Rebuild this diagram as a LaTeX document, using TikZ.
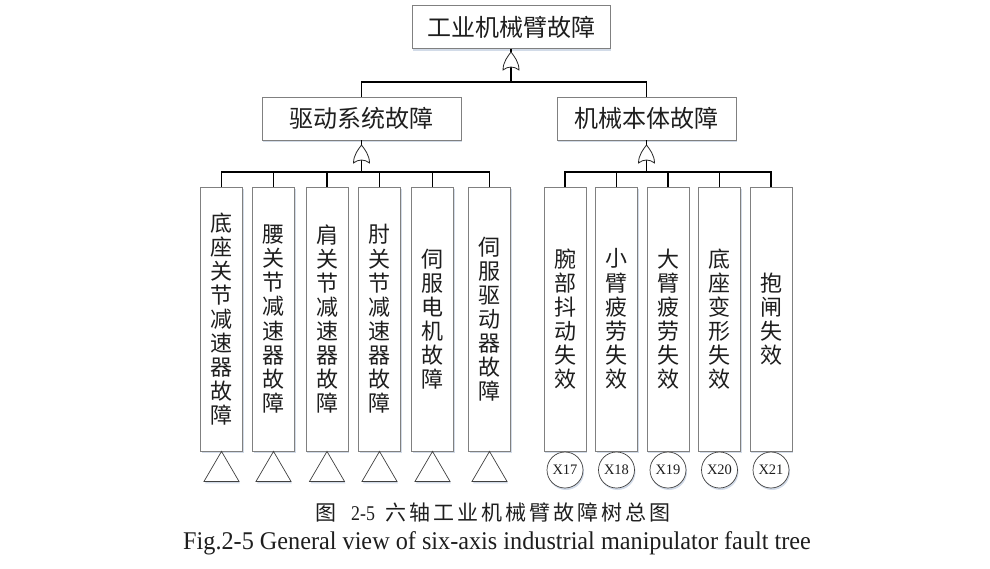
\documentclass[tikz,border=0pt]{standalone}
\usepackage{fontspec}
\setmainfont{Liberation Serif}
\newfontfamily\cjk{Noto Sans CJK SC}
\usetikzlibrary{shadows}
\definecolor{boxgray}{RGB}{128,128,128}
\definecolor{shadowc}{RGB}{205,215,230}
\definecolor{txt}{RGB}{30,30,30}
\begin{document}
\begin{tikzpicture}[x=1pt,y=-1pt,
  shd/.style={drop shadow={shadow xshift=1pt,shadow yshift=-2pt,fill=shadowc,opacity=0.9}},
  box/.style={draw=boxgray,line width=0.8pt,fill=white,inner sep=0pt,text=txt,shd},
  hbox/.style={box,minimum height=43pt,font=\cjk\fontsize{24}{26}\selectfont},
  leaf/.style={box,minimum width=42pt,minimum height=264pt,align=center,
    font=\cjk\fontsize{22}{24.1}\selectfont},
  conn/.style={line width=1.7pt,black},
  gatest/.style={draw=black!85,line width=0.8pt,fill=white},
  tri/.style={draw=black!75,line width=0.7pt,fill=white,shd},
  evt/.style={circle,draw=black!75,line width=0.7pt,fill=white,minimum size=36pt,
    inner sep=0pt,font=\fontsize{14.5}{16}\selectfont,text=txt,shd},
  orgate/.pic={\draw[gatest] (-8,18) .. controls (-8,10) and (-3,4) .. (0,0)
      .. controls (3,4) and (8,10) .. (8,18) .. controls (3,14) and (-3,14) .. cycle;}
]
\useasboundingbox (0,0) rectangle (990,568);

% top and middle events
\node[hbox,minimum width=198pt] (top) at (511,27) {工业机械臂故障};
\node[hbox,minimum width=199pt] (d) at (361.5,118.5) {驱动系统故障};
\node[hbox,minimum width=179pt] (m) at (646.5,118.5) {机械本体故障};

% leaf events, left
\node[leaf] (l1) at (221.5,319) {底\\座\\关\\节\\减\\速\\器\\故\\障};
\node[leaf] (l2) at (273.5,319) {腰\\关\\节\\减\\速\\器\\故\\障};
\node[leaf] (l3) at (327,319) {肩\\关\\节\\减\\速\\器\\故\\障};
\node[leaf] (l4) at (379.5,319) {肘\\关\\节\\减\\速\\器\\故\\障};
\node[leaf] (l5) at (432.5,319) {伺\\服\\电\\机\\故\\障};
\node[leaf] (l6) at (489.5,319) {伺\\服\\驱\\动\\器\\故\\障};
% leaf events, right
\node[leaf] (r1) at (565,319) {腕\\部\\抖\\动\\失\\效};
\node[leaf] (r2) at (616.5,319) {小\\臂\\疲\\劳\\失\\效};
\node[leaf] (r3) at (668,319) {大\\臂\\疲\\劳\\失\\效};
\node[leaf] (r4) at (719.5,319) {底\\座\\变\\形\\失\\效};
\node[leaf] (r5) at (771,319) {抱\\闸\\失\\效};

% gate coordinates
\coordinate (g0in) at (511,52);   \coordinate (g0out) at (511,67);  \coordinate (bar0) at (511,82);
\coordinate (g1in) at (361.5,145); \coordinate (g1out) at (361.5,160); \coordinate (bar1) at (361.5,172);
\coordinate (g2in) at (646.5,145); \coordinate (g2out) at (646.5,160); \coordinate (bar2) at (646.5,172);

% connectors
\draw[conn] (top.south) -- (g0in);
\draw[conn] (g0out) -- (bar0);
\draw[conn] (bar0) -| (d.north);
\draw[conn] (bar0) -| (m.north);
\draw[conn] (d.south) -- (g1in);
\draw[conn] (g1out) -- (bar1);
\draw[conn] (m.south) -- (g2in);
\draw[conn] (g2out) -- (bar2);
\foreach \n in {l1,l2,l3,l4,l5,l6} \draw[conn] (bar1) -| (\n.north);
\foreach \n in {r1,r2,r3,r4,r5} \draw[conn] (bar2) -| (\n.north);

% OR gates
\pic at (g0in) {orgate};
\pic at (g1in) {orgate};
\pic at (g2in) {orgate};

% undeveloped events (triangles)
\foreach \n in {l1,l2,l3,l4,l5,l6}
  \draw[tri] (\n.south) -- ++(-17.5,30) -- ++(35,0) -- cycle;

% basic events (circles)
\node[evt] (x17) at (565,470) {X17};
\node[evt] (x18) at (616.5,470) {X18};
\node[evt] (x19) at (668,470) {X19};
\node[evt] (x20) at (719.5,470) {X20};
\node[evt] (x21) at (771,470) {X21};

% caption
\node[anchor=base west,inner sep=0pt,text=txt] (cap1) at (315,520)
  {{\cjk\fontsize{21}{24}\selectfont 图}\hspace{15pt}\scalebox{0.85}[1]{\fontsize{21}{24}\selectfont 2-5}\hspace{11pt}{\cjk\fontsize{21}{24}\selectfont\addfontfeature{LetterSpace=14}六轴工业机械臂故障树总图}};
\node[anchor=base west,inner sep=0pt,text=txt] (cap2) at (183,549)
  {\scalebox{0.95}[1]{\fontsize{25.5}{27}\selectfont Fig.2-5 General view of six-axis industrial manipulator fault tree}};
\end{tikzpicture}
\end{document}
